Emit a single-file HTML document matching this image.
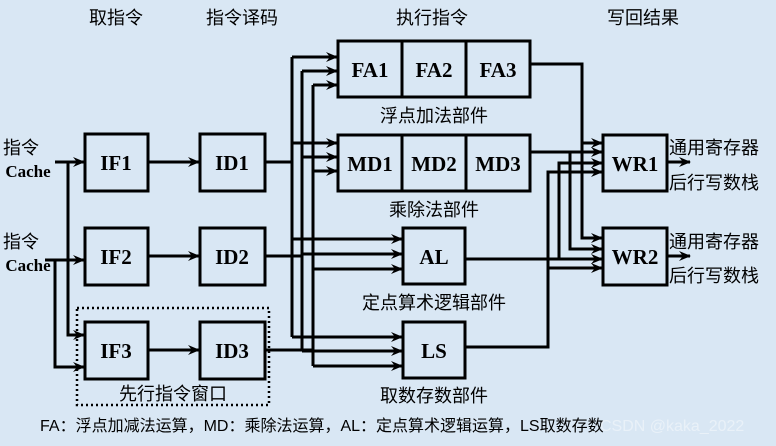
<!DOCTYPE html>
<html><head><meta charset="utf-8"><style>
html,body{margin:0;padding:0;background:#d9e7f4;}
svg{display:block}
.b{font-family:"Liberation Serif",serif;font-weight:bold;font-size:21px;text-anchor:middle}
.c{font-family:"Liberation Sans","Noto Sans CJK SC",sans-serif;font-size:18px}
.m{text-anchor:middle}
</style></head><body>
<svg width="776" height="446" viewBox="0 0 776 446" xmlns="http://www.w3.org/2000/svg">
<defs>
<marker id="a" markerWidth="12" markerHeight="10" refX="11" refY="5" orient="auto" markerUnits="userSpaceOnUse">
<path d="M0,0 L12,5 L0,10 L4,5 Z" fill="#000"/></marker>
</defs>
<rect width="776" height="446" fill="#d9e7f4"/>
<g class="c m" fill="#000">
<text x="116" y="24">取指令</text>
<text x="242" y="24">指令译码</text>
<text x="432" y="24">执行指令</text>
<text x="643" y="24">写回结果</text>
</g>
<g fill="none" stroke="#000" stroke-width="3">
<rect x="85" y="134" width="63" height="57"/>
<rect x="200" y="134" width="65" height="57"/>
<rect x="85" y="228" width="63" height="57"/>
<rect x="200" y="228" width="65" height="57"/>
<rect x="85" y="322" width="63" height="57"/>
<rect x="200" y="322" width="65" height="57"/>
<rect x="338" y="41" width="192" height="56"/>
<line x1="402" y1="41" x2="402" y2="97"/><line x1="466" y1="41" x2="466" y2="97"/>
<rect x="338" y="135" width="192" height="56"/>
<line x1="402" y1="135" x2="402" y2="191"/><line x1="466" y1="135" x2="466" y2="191"/>
<rect x="403" y="228" width="62" height="56"/>
<rect x="403" y="322" width="62" height="56"/>
<rect x="603" y="135" width="64" height="56"/>
<rect x="603" y="228" width="64" height="57"/>
</g>
<rect x="77" y="308" width="192" height="97" fill="none" stroke="#000" stroke-width="2.5" stroke-dasharray="2,3"/>
<g class="b" fill="#000">
<text x="116" y="170">IF1</text><text x="232" y="170">ID1</text>
<text x="116" y="264">IF2</text><text x="232" y="264">ID2</text>
<text x="116" y="358">IF3</text><text x="232" y="358">ID3</text>
<text x="370" y="77">FA1</text><text x="434" y="77">FA2</text><text x="498" y="77">FA3</text>
<text x="370" y="171">MD1</text><text x="434" y="171">MD2</text><text x="498" y="171">MD3</text>
<text x="434" y="264">AL</text><text x="434" y="358">LS</text>
<text x="635" y="171">WR1</text><text x="635" y="264">WR2</text>
<text x="28" y="177" style="font-size:17px">Cache</text>
<text x="28" y="271" style="font-size:17px">Cache</text>
</g>
<g class="c" fill="#000">
<text x="3" y="154">指令</text><text x="3" y="248">指令</text>
<text x="434" y="122" class="m">浮点加法部件</text>
<text x="434" y="216" class="m">乘除法部件</text>
<text x="434" y="309" class="m">定点算术逻辑部件</text>
<text x="434" y="402" class="m">取数存数部件</text>
<text x="173" y="400" class="m">先行指令窗口</text>
<text x="669" y="154">通用寄存器</text><text x="669" y="189">后行写数栈</text>
<text x="669" y="248">通用寄存器</text><text x="669" y="282">后行写数栈</text>
<text x="40" y="431" style="font-size:16px">FA：浮点加减法运算，MD：乘除法运算，AL：定点算术逻辑运算，LS取数存数</text>
</g>
<text x="600" y="431" fill="#eef4fa" opacity="0.8" style="font-family:'Liberation Sans',sans-serif;font-size:16px">CSDN @kaka_2022</text>
<g fill="none" stroke="#000" stroke-width="3" marker-end="url(#a)">
<path d="M55,162 H84"/>
<path d="M68,162 V335 H84"/>
<path d="M45,260 H84"/>
<path d="M55,260 V367 H84"/>
<path d="M148,162 H199"/><path d="M148,256 H199"/><path d="M148,350 H199"/>
<path d="M292,57 H337"/><path d="M302,71 H337"/><path d="M313,85 H337"/>
<path d="M292,143 H337"/><path d="M302,157 H337"/><path d="M313,171 H337"/>
<path d="M292,239 H402"/><path d="M302,254 H402"/><path d="M313,269 H402"/>
<path d="M292,337 H402"/><path d="M302,351 H402"/><path d="M313,366 H402"/>
<path d="M530,64 H582 V238 H602"/>
<path d="M582,143 H602"/>
<path d="M530,152 H602"/>
<path d="M570,152 V249 H602"/>
<path d="M465,259 H602"/>
<path d="M559,259 V163 H602"/>
<path d="M465,347 H548 V172 H602"/>
<path d="M548,268 H602"/>
<path d="M667,162 H690"/>
<path d="M667,256 H690"/>
</g>
<g fill="none" stroke="#000" stroke-width="3">
<path d="M292,57 V337"/><path d="M302,71 V351"/><path d="M313,85 V366"/>
<path d="M265,162 H292"/><path d="M265,256 H302"/><path d="M265,350 H313"/>
</g>
</svg>
</body></html>
